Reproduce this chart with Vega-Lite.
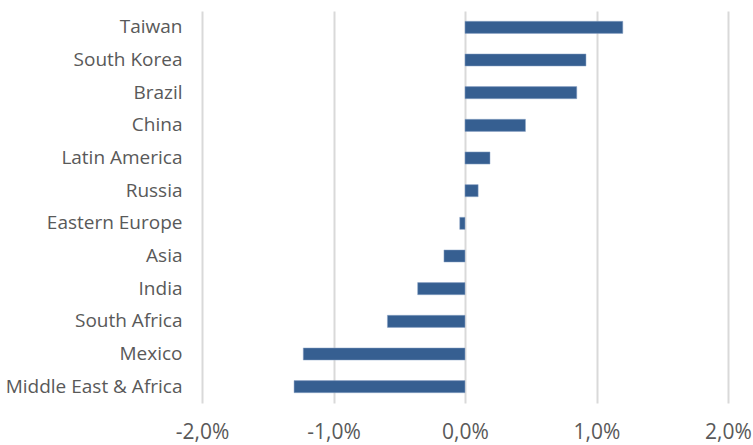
{
  "$schema": "https://vega.github.io/schema/vega-lite/v6.json",
  "width": 526,
  "height": 392,
  "autosize": "none",
  "padding": {"left": 202, "top": 11, "right": 25, "bottom": 42},
  "background": "white",
  "config": {
    "locale": {"number": {"decimal": ",", "thousands": ".", "grouping": [3], "currency": ["", " €"], "minus": "-"}},
    "view": {"stroke": null},
    "font": "Open Sans"
  },
  "data": {
    "values": [
      {"region": "Taiwan", "value": 0.0120},
      {"region": "South Korea", "value": 0.0092},
      {"region": "Brazil", "value": 0.0085},
      {"region": "China", "value": 0.0046},
      {"region": "Latin America", "value": 0.0019},
      {"region": "Russia", "value": 0.0010},
      {"region": "Eastern Europe", "value": -0.0004},
      {"region": "Asia", "value": -0.0016},
      {"region": "India", "value": -0.0036},
      {"region": "South Africa", "value": -0.0059},
      {"region": "Mexico", "value": -0.0123},
      {"region": "Middle East & Africa", "value": -0.0130}
    ]
  },
  "mark": {"type": "bar", "color": "#365f91", "stroke": "#8ea6c8", "strokeWidth": 0.5},
  "encoding": {
    "y": {
      "field": "region",
      "type": "nominal",
      "sort": null,
      "title": null,
      "scale": {"paddingInner": 0.63, "paddingOuter": 0.315},
      "axis": {"ticks": false, "domain": false, "labelFontSize": 19, "labelColor": "#595959", "labelPadding": 20, "labelFont": "Open Sans"}
    },
    "x": {
      "field": "value",
      "type": "quantitative",
      "title": null,
      "scale": {"domain": [-0.02, 0.02], "nice": false},
      "axis": {"values": [-0.02, -0.01, 0, 0.01, 0.02], "format": ".1%", "ticks": false, "domain": false, "grid": true, "gridColor": "#d9d9d9", "gridWidth": 2, "labelFlush": false, "labelBound": false, "labelFontSize": 21, "labelColor": "#595959", "labelPadding": 18, "labelFont": "Open Sans"}
    }
  }
}
